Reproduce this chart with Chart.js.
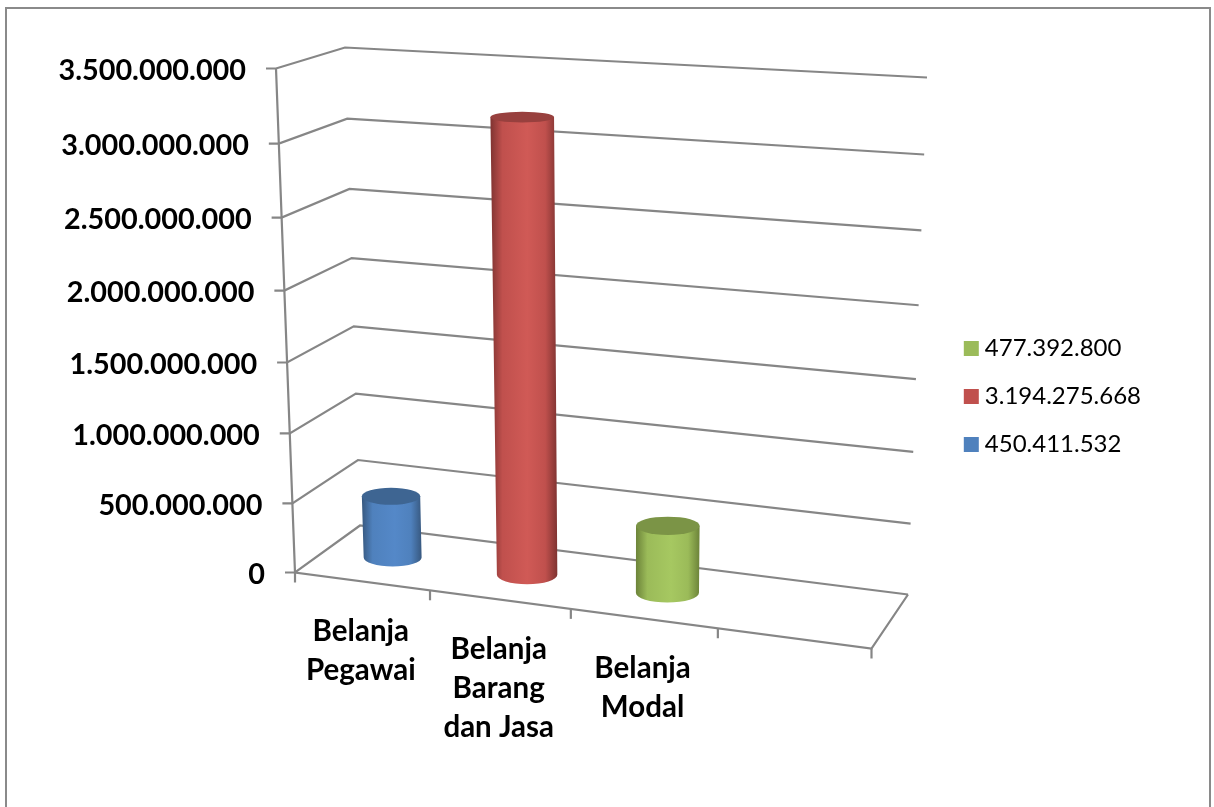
<!DOCTYPE html>
<html>
<head>
<meta charset="utf-8">
<title>Belanja</title>
<script src="https://cdn.jsdelivr.net/npm/chart.js@4/dist/chart.umd.js"></script>
<style>
  html, body { margin: 0; padding: 0; background: #fff; overflow: hidden; }
  #frame { position: absolute; left: 5px; top: 7px; width: 1202px; height: 900px; border: 2px solid #8a8a8a; }
  #chart { position: absolute; left: 0; top: 0; }
</style>
</head>
<body>
<div id="frame"></div>
<canvas id="chart" width="1214" height="807"></canvas>
<script>
var categories = [['Belanja', 'Pegawai'], ['Belanja', 'Barang', 'dan Jasa'], ['Belanja', 'Modal'], ''];
var seriesNames = ['450.411.532', '3.194.275.668', '477.392.800'];
var belanjaPegawai = [450411532, null, null, null];
var belanjaBarang = [null, 3194275668, null, null];
var belanjaModal = [null, null, 477392800, null];
var yTickLabels = ['0', '500.000.000', '1.000.000.000', '1.500.000.000', '2.000.000.000', '2.500.000.000', '3.000.000.000', '3.500.000.000'];
var seriesColors = ['#4f81bd', '#c0504d', '#9bbb59'];
var edgeColors = ['#37587f', '#7f3331', '#6c8339'];
var lightColors = ['#5488c8', '#d05a56', '#a6c861'];
var topColors = ['#3e6592', '#98403e', '#7b9446'];

// corners of the 3d box on the page: f = front, b = back, l/r, 0 = floor, 1 = top
var box = {
  f0l: [295, 572.5], f0r: [871.5, 648.5], b0l: [360, 525.5], b0r: [908, 594.5],
  f1l: [276, 68.5], f1r: [884, 112.5], b1l: [345, 47.5], b1r: [927, 77.5]
};
var gridColor = '#868686';

function warp(t, k) {
  return t / (t + (1 - t) * (1 + k));
}
function mix(a, b, t) {
  return [a[0] + (b[0] - a[0]) * t, a[1] + (b[1] - a[1]) * t];
}
// x, depth and value all 0..1
function project(x, d, v) {
  var tx = warp(x, 0.09), tv = warp(v, 0.05);
  var floor = mix(mix(box.f0l, box.f0r, tx), mix(box.b0l, box.b0r, tx), d);
  var roof = mix(mix(box.f1l, box.f1r, tx), mix(box.b1l, box.b1r, tx), d);
  return mix(floor, roof, tv);
}
function line(ctx, pts) {
  ctx.beginPath();
  ctx.moveTo(pts[0][0], pts[0][1]);
  for (var i = 1; i < pts.length; i++) ctx.lineTo(pts[i][0], pts[i][1]);
  ctx.stroke();
}

function drawCylinder(ctx, chart, el, i) {
  var xs = chart.scales.x, ys = chart.scales.y;
  var xf = (el.x - xs.left) / xs.width;
  var half = el.width / xs.width / 2;
  var vf = (ys.bottom - el.y) / ys.height;
  var depth = 0.19;

  function ring(v) {
    var c = project(xf, 0.5, v);
    return {
      x: c[0], y: c[1],
      rx: (project(xf + half, 0.5, v)[0] - project(xf - half, 0.5, v)[0]) / 2,
      ry: (project(xf, 0.5 - depth, v)[1] - project(xf, 0.5 + depth, v)[1]) / 2
    };
  }
  var bot = ring(0), top = ring(vf);

  var left = Math.min(bot.x - bot.rx, top.x - top.rx), right = Math.max(bot.x + bot.rx, top.x + top.rx);
  var g = ctx.createLinearGradient(left, 0, right, 0);
  g.addColorStop(0, edgeColors[i]);
  g.addColorStop(0.18, seriesColors[i]);
  g.addColorStop(0.55, lightColors[i]);
  g.addColorStop(0.82, seriesColors[i]);
  g.addColorStop(1, edgeColors[i]);

  ctx.beginPath();
  ctx.moveTo(top.x - top.rx, top.y);
  ctx.lineTo(bot.x - bot.rx, bot.y);
  ctx.ellipse(bot.x, bot.y, bot.rx, bot.ry, 0, Math.PI, 0, true);
  ctx.lineTo(top.x + top.rx, top.y);
  ctx.closePath();
  ctx.fillStyle = g;
  ctx.fill();

  ctx.beginPath();
  ctx.ellipse(top.x, top.y, top.rx, top.ry, 0, 0, Math.PI * 2);
  ctx.fillStyle = topColors[i];
  ctx.fill();
}

var box3d = {
  id: 'box3d',
  beforeDatasetsDraw: function(chart) {
    var ctx = chart.ctx, ys = chart.scales.y;
    ctx.save();
    ctx.strokeStyle = gridColor;
    ctx.lineWidth = 2.2;
    ys.ticks.forEach(function(t) {
      var v = (ys.bottom - ys.getPixelForValue(t.value)) / ys.height;
      var p = project(0, 0, v);
      line(ctx, [[p[0] - 10, p[1]], p, project(0, 1, v), project(1, 1, v)]);
    });
    line(ctx, [project(0, 0, 1), project(0, 0, 0), project(1, 0, 0), project(1, 1, 0)]);
    for (var i = 0; i <= categories.length; i++) {
      var q = project(i / categories.length, 0, 0);
      line(ctx, [q, [q[0], q[1] + 10]]);
    }
    ctx.restore();
  },
  // the flat bars are replaced by the cylinders below
  beforeDatasetDraw: function() {
    return false;
  },
  afterDatasetsDraw: function(chart) {
    var ctx = chart.ctx;
    ctx.save();
    chart.data.datasets.forEach(function(ds, i) {
      chart.getDatasetMeta(i).data.forEach(function(el, j) {
        if (ds.data[j] !== null) drawCylinder(ctx, chart, el, i);
      });
    });
    ctx.restore();
  },
  afterDraw: function(chart) {
    var ctx = chart.ctx, ys = chart.scales.y, xs = chart.scales.x;
    ctx.save();
    ctx.fillStyle = '#000';
    ctx.font = 'bold 28.8px Lato';
    ctx.textAlign = 'right';
    ctx.textBaseline = 'middle';
    ys.ticks.forEach(function(t) {
      var v = (ys.bottom - ys.getPixelForValue(t.value)) / ys.height;
      var p = project(0, 0, v);
      ctx.fillText(t.label, p[0] - 30, p[1] + 2);
    });
    ctx.textAlign = 'center';
    ctx.font = 'bold 29.5px Lato';
    xs.ticks.forEach(function(t, i) {
      var p = project((xs.getPixelForValue(i) - xs.left) / xs.width, 0, 0);
      [].concat(t.label).forEach(function(txt, n) {
        ctx.fillText(txt, p[0] - 1, p[1] + 50 + n * 39);
      });
    });
    ctx.restore();
  }
};

new Chart(document.getElementById('chart').getContext('2d'), {
  type: 'bar',
  data: {
    labels: categories,
    datasets: [
      { label: seriesNames[0], data: belanjaPegawai, backgroundColor: seriesColors[0] },
      { label: seriesNames[1], data: belanjaBarang, backgroundColor: seriesColors[1] },
      { label: seriesNames[2], data: belanjaModal, backgroundColor: seriesColors[2] }
    ]
  },
  plugins: [box3d],
  options: {
    responsive: false,
    animation: false,
    layout: { padding: { top: 8, bottom: 22, left: 260, right: 63 } },
    datasets: { bar: { grouped: false, categoryPercentage: 1, barPercentage: 0.44 } },
    scales: {
      x: { grid: { display: false }, border: { display: false }, ticks: { display: false } },
      y: {
        min: 0, max: 3500000000,
        grid: { display: false }, border: { display: false },
        ticks: {
          display: false, stepSize: 500000000,
          callback: function(value, index) { return yTickLabels[index]; }
        }
      }
    },
    plugins: {
      tooltip: { enabled: false },
      legend: {
        position: 'right',
        reverse: true,
        labels: {
          color: '#000',
          font: { family: 'Lato', size: 24 },
          usePointStyle: true,
          pointStyle: 'rect',
          // narrow box width keeps the text close to the swatch
          boxWidth: 3,
          boxHeight: 15,
          padding: 24
        }
      }
    }
  }
});
</script>
</body>
</html>
